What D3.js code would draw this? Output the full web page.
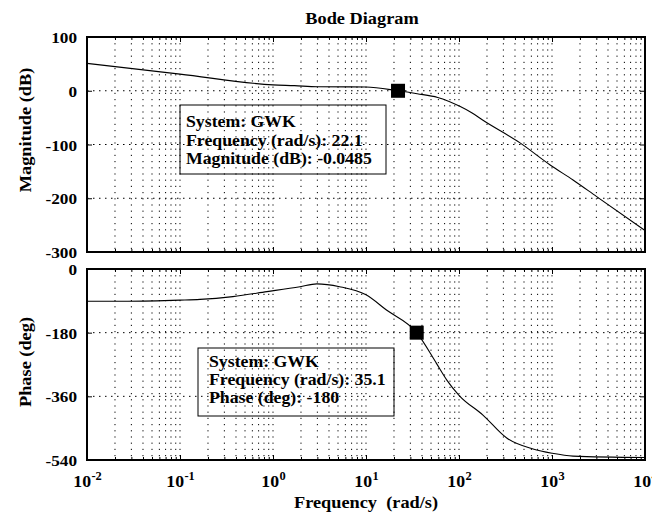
<!DOCTYPE html>
<html><head><meta charset="utf-8">
<script src="https://cdn.jsdelivr.net/npm/d3@7"></script>
<style>
body{margin:0;background:#fff}
svg{display:block}
text{font-family:"Liberation Serif","Times New Roman",serif;font-weight:bold;fill:#000}
</style>
</head><body><svg id="c" width="652" height="514"></svg>
<script>
// ---- data ----
const magFreq=[0.01,0.1,1,1.7,3,10,22.1,35.5,59,102,137,181,453,955,1683,3020,10000];
const magDb  =[51,31,11,9.5,7.5,7,-0.05,-5.6,-12.5,-29,-41,-55,-97,-138,-166,-197,-260];
const phFreq=[0.01,0.0276,0.1,0.164,0.37,0.86,1.95,2.96,5.2,10,16.6,35.1,57,74,100,181,326,625,1000,1683,10000];
const phDeg =[-91,-91,-88,-86,-78,-64,-50,-42,-50,-73,-116,-180,-266,-314,-357,-413,-478,-509,-521,-529,-533];
const magTicks=[100,0,-100,-200,-300];
const phTicks=[0,-180,-360,-540];
const freqExponents=[-2,-1,0,1,2,3,4];
const magMarker={freq:22.1,value:-0.0485};
const phMarker={freq:35.1,value:-180};
const magNote=["System: GWK","Frequency (rad/s): 22.1","Magnitude (dB): -0.0485"];
const phNote=["System: GWK","Frequency (rad/s): 35.1","Phase (deg): -180"];
const title="Bode Diagram", magLabel="Magnitude (dB)", phLabel="Phase (deg)", xLabel="Frequency  (rad/s)";

// ---- layout ----
const SX=1.11; // horizontal stretch of the reference's type
const svg=d3.select("#c");
const L=87,R=645;
const x=d3.scaleLog().domain([1e-2,1e4]).range([L,R]);
const yM=d3.scaleLinear().domain([-300,100]).range([252,37]);
const yP=d3.scaleLinear().domain([-540,0]).range([460,269]);

const majors=freqExponents.map(e=>Math.pow(10,e));
const minors=[];
freqExponents.slice(0,-1).forEach(e=>{for(let m=2;m<=9;m++)minors.push(m*Math.pow(10,e));});

function txt(parent,tx,ty,s,size,anchor,rot){
  return parent.append("text")
    .attr("transform",`translate(${tx},${ty})${rot?" rotate("+rot+")":""} scale(${SX},1)`)
    .attr("text-anchor",anchor||"start").attr("font-size",size).style("white-space","pre").text(s);
}

function panel(y,ticks,fr,vals,marker,labelText,labelY,showX){
  const [y0,y1]=y.range(); // bottom, top
  const g=svg.append("g");
  // grid
  const grid=g.append("g").attr("stroke","#000").attr("stroke-width",1).attr("stroke-dasharray","1.2,5");
  grid.selectAll("line.v").data(minors.concat(majors.slice(1,-1))).join("line")
    .attr("x1",d=>x(d)).attr("x2",d=>x(d)).attr("y1",y1).attr("y2",y0);
  grid.selectAll("line.h").data(ticks).join("line")
    .attr("x1",L).attr("x2",R).attr("y1",d=>y(d)).attr("y2",d=>y(d)).attr("stroke-dasharray","1.5,4.5");
  // curve
  const line=d3.line().x((d,i)=>x(fr[i])).y(d=>y(d)).curve(d3.curveMonotoneX);
  g.append("path").datum(vals).attr("d",line).attr("fill","none").attr("stroke","#000").attr("stroke-width",1.1);
  // axes ticks (inward)
  const mk=(ax)=>ax.tickSizeOuter(0);
  const bMin=g.append("g").attr("transform",`translate(0,${y0})`).call(mk(d3.axisBottom(x).tickValues(minors).tickSizeInner(-3).tickFormat("")));
  const bMaj=g.append("g").attr("transform",`translate(0,${y0})`).call(mk(d3.axisBottom(x).tickValues(majors).tickSizeInner(-5).tickFormat("")));
  const tMin=g.append("g").attr("transform",`translate(0,${y1})`).call(mk(d3.axisTop(x).tickValues(minors).tickSizeInner(-3).tickFormat("")));
  const tMaj=g.append("g").attr("transform",`translate(0,${y1})`).call(mk(d3.axisTop(x).tickValues(majors).tickSizeInner(-5).tickFormat("")));
  const lAx=g.append("g").attr("transform",`translate(${L},0)`).call(mk(d3.axisLeft(y).tickValues(ticks).tickSizeInner(-5).tickFormat(d=>String(d))));
  const rAx=g.append("g").attr("transform",`translate(${R},0)`).call(mk(d3.axisRight(y).tickValues(ticks).tickSizeInner(-5).tickFormat("")));
  [bMin,bMaj,tMin,tMaj,lAx,rAx].forEach(a=>{a.select(".domain").remove();a.selectAll("line").attr("stroke","#000");a.attr("font-family",null);});
  lAx.selectAll("text").attr("x",null).attr("dy","0.36em").attr("font-size",15.5)
    .attr("transform",`translate(-10,0) scale(${SX},1)`);
  if(showX){
    bMaj.selectAll(".tick").each(function(d){
      const t=d3.select(this).append("text").attr("transform",`translate(0,27) scale(1.08,1)`)
        .attr("text-anchor","middle").attr("font-size",16.5).attr("fill","#000");
      t.append("tspan").text("10");
      t.append("tspan").attr("font-size",11.5).attr("dy",-7).attr("dx",0.3).text(Math.round(Math.log10(d)));
    });
  }
  // frame
  g.append("rect").attr("x",L).attr("y",y1).attr("width",R-L).attr("height",y0-y1)
    .attr("fill","none").attr("stroke","#000").attr("stroke-width",2);
  // marker
  g.append("rect").attr("x",x(marker.freq)-7).attr("y",y(marker.value)-7).attr("width",14).attr("height",14).attr("fill","#000");
  // y label
  svg.append("text").attr("transform",`translate(31,${labelY}) rotate(-90) scale(${SX},1)`).attr("text-anchor","middle")
    .attr("font-size",16.5).text(labelText);
}
panel(yM,magTicks,magFreq,magDb,magMarker,magLabel,130,false);
panel(yP,phTicks,phFreq,phDeg,phMarker,phLabel,362,true);

function note(bx,by,bw,bh,tx,lines,baselines){
  svg.append("rect").attr("x",bx).attr("y",by).attr("width",bw).attr("height",bh)
    .attr("fill","none").attr("stroke","#000").attr("stroke-width",1);
  lines.forEach((s,i)=>txt(svg,tx,baselines[i],s,16));
}
note(180,105,206,69,186,magNote,[127,146,164]);
note(198,348,196,68,209,phNote,[367,385,403]);

txt(svg,362,24,title,16.5,"middle");
txt(svg,366,508,xLabel,16.5,"middle");
</script>
</body></html>
